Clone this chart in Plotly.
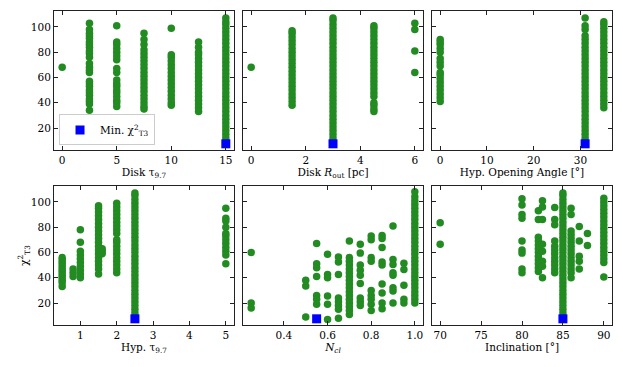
import plotly.graph_objects as go
from plotly.subplots import make_subplots

# chi^2 of each model, grouped by the parameter value (one column per value)
disk_tau_vals = [0, 2.5, 5, 7.5, 10, 12.5, 15]
disk_tau_chi2 = [
    [68],
    [34, 39, 41, 43, 46, 48, 50, 53, 55, 57, 64, 66, 68, 71, 76, 79, 81, 84, 86, 88, 91, 93, 95, 98, 103],
    [37, 40, 42, 45, 48, 50, 53, 55, 58, 64, 67, 74, 77, 80, 83, 86, 88, 101],
    [35, 37, 40, 43, 46, 49, 52, 55, 58, 61, 64, 67, 70, 73, 76, 79, 82, 86, 90, 95],
    [38, 40, 43, 46, 49, 52, 55, 58, 61, 64, 67, 70, 73, 76, 78, 99],
    [33, 36, 39, 42, 45, 48, 51, 54, 57, 60, 63, 66, 69, 72, 75, 78, 80, 84, 88],
    [9, 12, 15, 18, 21, 24, 27, 30, 33, 36, 39, 42, 45, 48, 51, 54, 57, 60, 63, 66, 69, 72,
     75, 78, 81, 84, 87, 90, 93, 96, 99, 102, 104, 107],
]

disk_rout_vals = [0, 1.5, 3, 4.5, 6]
disk_rout_chi2 = [
    [68],
    [38, 41, 44, 47, 50, 53, 56, 59, 62, 65, 68, 71, 74, 77, 80, 83, 86, 89, 92, 95, 97],
    [9, 12, 15, 18, 21, 24, 27, 30, 33, 36, 39, 42, 45, 48, 51, 54, 57, 60, 63, 66, 69, 72,
     75, 78, 81, 84, 87, 90, 93, 96, 99, 102, 105, 107],
    [33, 35, 38, 40, 45, 48, 51, 54, 57, 60, 63, 66, 69, 72, 75, 78, 81, 84, 87, 90, 93, 96, 99, 101],
    [64, 81, 98, 103],
]

hyp_angle_vals = [0, 31, 35]
hyp_angle_chi2 = [
    [41, 44, 47, 50, 53, 56, 59, 62, 64, 69, 72, 75, 80, 83, 86, 88, 90],
    [9, 12, 15, 18, 21, 24, 27, 30, 33, 36, 39, 42, 45, 48, 51, 54, 57, 60, 63, 66, 69, 72,
     75, 78, 81, 84, 87, 90, 93, 98, 101, 107],
    [36, 39, 42, 45, 48, 51, 54, 57, 60, 63, 66, 69, 72, 75, 78, 81, 84, 87, 90, 93, 96, 99, 102, 104],
]

hyp_tau_vals = [0.5, 0.8, 1, 1.5, 1.6, 2, 2.5, 5]
hyp_tau_chi2 = [
    [33, 36, 38, 40, 42, 44, 46, 48, 50, 52, 54, 56],
    [41, 44, 47],
    [40, 43, 46, 49, 52, 55, 58, 61, 68, 78],
    [43, 47, 50, 53, 56, 59, 62, 65, 68, 71, 74, 77, 80, 83, 86, 89, 92, 95, 97],
    [59, 61, 63],
    [44, 47, 50, 53, 56, 59, 62, 65, 68, 70, 75, 78, 81, 84, 87, 90, 93, 96, 99],
    [9, 12, 15, 18, 21, 24, 27, 30, 33, 36, 39, 42, 45, 48, 51, 54, 57, 60, 63, 66, 69, 72,
     75, 78, 81, 84, 87, 90, 93, 96, 99, 102, 105, 107],
    [51, 58, 61, 64, 67, 70, 73, 75, 80, 85, 87, 95],
]

ncl_vals = [0.25, 0.5, 0.55, 0.6, 0.65, 0.7, 0.75, 0.8, 0.85, 0.9, 0.95, 1.0]
ncl_chi2 = [
    [60, 20, 16],
    [38, 33.5, 9],
    [67, 51, 48, 41, 26, 23, 19],
    [58.5, 42.5, 40, 25.5, 19, 7],
    [56.5, 52.5, 42.5, 24, 21, 18, 15, 8],
    [69, 56, 53, 50, 47, 44, 41, 38, 35, 32, 29, 26, 23, 20, 17, 14, 11],
    [66.5, 59.5, 50, 46, 42, 35.5, 24, 21, 18],
    [73, 70, 56, 53, 30, 26, 23, 19, 14],
    [73.5, 71, 64, 52.5, 50, 35, 28, 20, 15.5],
    [81, 54.5, 50.5, 44, 42, 32, 29.5, 20],
    [51.5, 46.5, 34, 23, 20],
    [20, 23, 26, 29, 32, 35, 38, 41, 44, 47, 50, 53, 56, 59, 62, 65, 68, 71, 74, 77, 80,
     83, 86, 89, 92, 95, 98, 101, 104, 108],
]

incl_vals = [70, 80, 82, 82.5, 84, 85, 86, 87, 88, 90]
incl_chi2 = [
    [83.5, 66.5],
    [102.5, 97.5, 90, 87, 69, 62, 59.5, 47, 44],
    [93, 86, 72, 69, 66, 63, 60, 57, 54, 51, 48, 45],
    [101, 96, 86, 66.5, 61, 53, 49, 40],
    [95.5, 86, 82, 69, 65, 62, 59, 56, 53, 50, 47, 44],
    [9, 12, 15, 18, 21, 24, 27, 30, 33, 36, 39, 42, 45, 48, 51, 54, 57, 60, 63, 66, 69, 72,
     75, 78, 81, 84, 87, 90, 93, 96, 99, 102, 105, 107],
    [95, 90, 77, 74, 71, 68, 65, 62, 59, 56, 53, 50, 47, 44, 40],
    [80.5, 69, 57, 53, 47],
    [75, 65.5],
    [103, 100, 97, 94, 91, 88, 85, 82, 79, 76, 73, 70, 67, 64, 61, 58, 55, 52, 40.5],
]

# best-fit model parameters and its chi^2
best_params = [15, 3, 31, 2.5, 0.55, 85]
min_chi2 = 7.5

panels = [
    (disk_tau_vals, disk_tau_chi2, "Disk τ<sub>9.7</sub>", [-0.75, 15.75], [0, 5, 10, 15], None),
    (disk_rout_vals, disk_rout_chi2, "Disk <i>R</i><sub>out</sub> [pc]", [-0.3, 6.3], [0, 2, 4, 6], None),
    (hyp_angle_vals, hyp_angle_chi2, "Hyp. Opening Angle [°]", [-1.75, 36.75], [0, 10, 20, 30], None),
    (hyp_tau_vals, hyp_tau_chi2, "Hyp. τ<sub>9.7</sub>", [0.275, 5.225], [1, 2, 3, 4, 5], None),
    (ncl_vals, ncl_chi2, "<i>N<sub>cl</sub></i>", [0.2125, 1.0375], [0.4, 0.6, 0.8, 1.0],
     ["0.4", "0.6", "0.8", "1.0"]),
    (incl_vals, incl_chi2, "Inclination [°]", [69, 91], [70, 75, 80, 85, 90], None),
]

fig = make_subplots(rows=2, cols=3, horizontal_spacing=9 / 558, vertical_spacing=36 / 314)

font = dict(family="DejaVu Serif", size=10.5, color="black")

for i, (vals, chi2, title, xr, tv, tt) in enumerate(panels):
    row, col = i // 3 + 1, i % 3 + 1
    xs = [v for v, ys in zip(vals, chi2) for _ in ys]
    ys = [y for ys in chi2 for y in ys]
    fig.add_trace(go.Scatter(x=xs, y=ys, mode="markers", showlegend=False,
                             marker=dict(color="#228B22", size=7.5, line=dict(width=0))),
                  row=row, col=col)
    fig.add_trace(go.Scatter(x=[best_params[i]], y=[min_chi2], mode="markers",
                             name="Min. χ<sup>2</sup><sub>T3</sub>", showlegend=(i == 0),
                             marker=dict(color="blue", symbol="square", size=9, line=dict(width=0))),
                  row=row, col=col)
    fig.update_xaxes(range=xr, tickvals=tv, ticktext=tt, title_text=title, title_standoff=3,
                     row=row, col=col)
    fig.update_yaxes(range=[2.6, 112.6], tickvals=[20, 40, 60, 80, 100],
                     showticklabels=(col == 1), row=row, col=col)

axis_style = dict(showgrid=False, zeroline=False, showline=True, linecolor="#222", linewidth=1,
                  mirror="ticks", ticks="inside", ticklen=4, tickwidth=1, tickcolor="#222",
                  tickfont=font, title_font=font, automargin=False)
fig.update_xaxes(**axis_style)
fig.update_yaxes(**axis_style)
fig.update_yaxes(title_text="χ<sup>2</sup><sub>T3</sub>", title_standoff=0, row=2, col=1)

# the page adds an 8px body margin, so the figure is sized to fit the window after it
fig.update_layout(
    width=615, height=359,
    margin=dict(l=46, r=11, t=3, b=42),
    paper_bgcolor="white", plot_bgcolor="white",
    font=font,
    legend=dict(x=0.009, y=0.572, xanchor="left", yanchor="bottom", itemwidth=30,
                bgcolor="rgba(255,255,255,0.8)", bordercolor="#ccc", borderwidth=1,
                font=dict(family="DejaVu Serif", size=10.5)),
)

fig.write_html("out.html")
